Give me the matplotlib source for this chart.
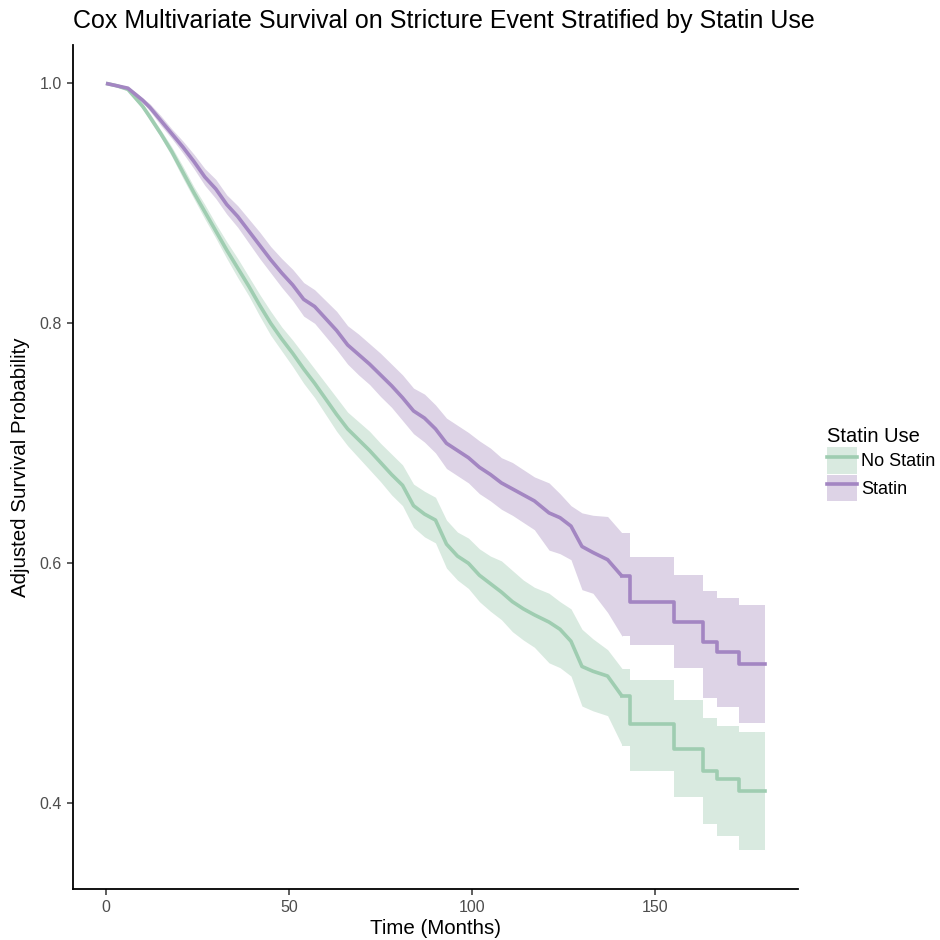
import matplotlib
matplotlib.use("Agg")
import matplotlib.pyplot as plt
from matplotlib.patches import Patch
from matplotlib.lines import Line2D
from matplotlib.legend_handler import HandlerTuple

# months, shared by both strata
months = [0, 3, 6, 8, 10, 12, 15, 18, 21, 24, 27, 30, 33, 36, 39, 42, 45, 48,
          51, 54, 57, 60, 63, 66, 69, 72, 75, 78, 81, 84, 87, 90, 93, 96, 99,
          102, 105, 108, 111, 114, 117, 121, 124, 127, 130, 133, 137, 141, 143,
          155, 163, 167, 173, 180]

# No Statin
no_statin = [1.000, 0.998, 0.995, 0.988, 0.981, 0.972, 0.958, 0.943, 0.926, 0.909,
             0.893, 0.877, 0.861, 0.846, 0.831, 0.815, 0.800, 0.787, 0.775, 0.762,
             0.750, 0.737, 0.724, 0.712, 0.703, 0.694, 0.684, 0.674, 0.665, 0.648,
             0.641, 0.636, 0.616, 0.606, 0.600, 0.590, 0.583, 0.576, 0.568, 0.562,
             0.557, 0.551, 0.545, 0.535, 0.514, 0.510, 0.506, 0.489, 0.466, 0.445,
             0.427, 0.420, 0.410, 0.410]
no_statin_hi = [1.000, 0.999, 0.996, 0.990, 0.983, 0.975, 0.961, 0.947, 0.931, 0.914,
                0.899, 0.883, 0.868, 0.854, 0.839, 0.824, 0.810, 0.797, 0.786, 0.774,
                0.762, 0.750, 0.738, 0.726, 0.718, 0.710, 0.700, 0.691, 0.682, 0.666,
                0.660, 0.655, 0.636, 0.626, 0.621, 0.612, 0.606, 0.602, 0.594, 0.586,
                0.580, 0.575, 0.568, 0.562, 0.545, 0.537, 0.528, 0.512, 0.503, 0.486,
                0.471, 0.464, 0.459, 0.459]
no_statin_lo = [1.000, 0.997, 0.994, 0.986, 0.979, 0.969, 0.955, 0.939, 0.921, 0.904,
                0.887, 0.871, 0.854, 0.838, 0.823, 0.806, 0.790, 0.777, 0.764, 0.750,
                0.738, 0.724, 0.710, 0.698, 0.688, 0.678, 0.668, 0.657, 0.648, 0.630,
                0.622, 0.617, 0.596, 0.586, 0.579, 0.568, 0.560, 0.553, 0.543, 0.536,
                0.530, 0.517, 0.513, 0.506, 0.481, 0.477, 0.473, 0.448, 0.427, 0.405,
                0.383, 0.373, 0.361, 0.361]

# Statin
statin = [1.000, 0.998, 0.996, 0.991, 0.986, 0.980, 0.969, 0.958, 0.947, 0.935,
          0.922, 0.912, 0.899, 0.889, 0.877, 0.865, 0.853, 0.842, 0.832, 0.820,
          0.814, 0.804, 0.794, 0.782, 0.774, 0.766, 0.757, 0.748, 0.738, 0.727,
          0.721, 0.712, 0.700, 0.694, 0.688, 0.680, 0.674, 0.667, 0.662, 0.657,
          0.652, 0.642, 0.638, 0.631, 0.614, 0.609, 0.603, 0.589, 0.568, 0.551,
          0.534, 0.526, 0.516, 0.516]
statin_hi = [1.000, 0.999, 0.997, 0.993, 0.988, 0.983, 0.973, 0.962, 0.952, 0.941,
             0.929, 0.920, 0.907, 0.898, 0.887, 0.876, 0.864, 0.854, 0.845, 0.834,
             0.828, 0.819, 0.810, 0.798, 0.791, 0.783, 0.775, 0.766, 0.757, 0.746,
             0.741, 0.732, 0.721, 0.715, 0.709, 0.702, 0.696, 0.688, 0.684, 0.678,
             0.672, 0.667, 0.658, 0.648, 0.642, 0.640, 0.639, 0.625, 0.605, 0.590,
             0.577, 0.571, 0.565, 0.565]
statin_lo = [1.000, 0.997, 0.995, 0.989, 0.984, 0.977, 0.965, 0.954, 0.942, 0.929,
             0.915, 0.904, 0.891, 0.880, 0.867, 0.854, 0.842, 0.830, 0.819, 0.806,
             0.800, 0.789, 0.778, 0.766, 0.757, 0.749, 0.739, 0.730, 0.719, 0.708,
             0.701, 0.692, 0.679, 0.673, 0.667, 0.658, 0.652, 0.645, 0.640, 0.634,
             0.628, 0.611, 0.608, 0.603, 0.578, 0.575, 0.559, 0.539, 0.532, 0.513,
             0.488, 0.480, 0.467, 0.467]

groups = ["No Statin", "Statin"]
line_cols = ["#9fcdb1", "#a386c2"]
band_cols = ["#d9eae0", "#ddd3e6"]

plt.rcParams['font.family'] = ['Liberation Sans', 'DejaVu Sans']

fig = plt.figure(figsize=(9.4, 9.4), dpi=100)
ax = fig.add_axes([73 / 940, 1 - 889 / 940, 725 / 940, 844 / 940])

# dense part (many tiny steps) drawn as a line, sparse tail as real steps
k = months.index(141)
series = [(no_statin, no_statin_lo, no_statin_hi), (statin, statin_lo, statin_hi)]
handles = []
for (s, lo, hi), lc, bc, name in zip(series, line_cols, band_cols, groups):
    ax.fill_between(months[:k + 1], lo[:k + 1], hi[:k + 1], color=bc, lw=0)
    ax.fill_between(months[k:], lo[k:], hi[k:], step="post", color=bc, lw=0)
    ax.plot(months[:k + 1], s[:k + 1], color=lc, lw=2.6, solid_capstyle="butt")
    ax.step(months[k:], s[k:], where="post", color=lc, lw=2.6)
    handles.append((Patch(facecolor=bc, edgecolor="none"),
                    Line2D([], [], color=lc, lw=2.6)))

ax.set_xlim(-9, 189)
ax.set_ylim(0.3285, 1.032)
ax.set_xticks([0, 50, 100, 150])
ax.set_yticks([0.4, 0.6, 0.8, 1.0])
ax.set_yticklabels(["0.4", "0.6", "0.8", "1.0"])

for side in ["top", "right"]:
    ax.spines[side].set_visible(False)
for side in ["left", "bottom"]:
    ax.spines[side].set_linewidth(1.3)
    ax.spines[side].set_color("black")
ax.tick_params(length=4, width=1.1, color="#333333", labelsize=11.5,
               labelcolor="#4d4d4d", pad=4)

ax.set_xlabel("Time (Months)", fontsize=14.8, labelpad=3)
ax.set_ylabel("Adjusted Survival Probability", fontsize=14.8, labelpad=7)
ax.set_title("Cox Multivariate Survival on Stricture Event Stratified by Statin Use",
             fontsize=18, loc="left", pad=12)

leg = fig.legend(handles, groups, handler_map={tuple: HandlerTuple(ndivide=1, pad=0)},
                 loc="center left", bbox_to_anchor=(827 / 940, 0.506),
                 borderaxespad=0, frameon=False, fontsize=13, title="Statin Use",
                 title_fontsize=14.5, handlelength=1.65, handleheight=1.9,
                 labelspacing=0.05, handletextpad=0.25, borderpad=0,
                 alignment="left")

fig.savefig("out.png", dpi=100)
